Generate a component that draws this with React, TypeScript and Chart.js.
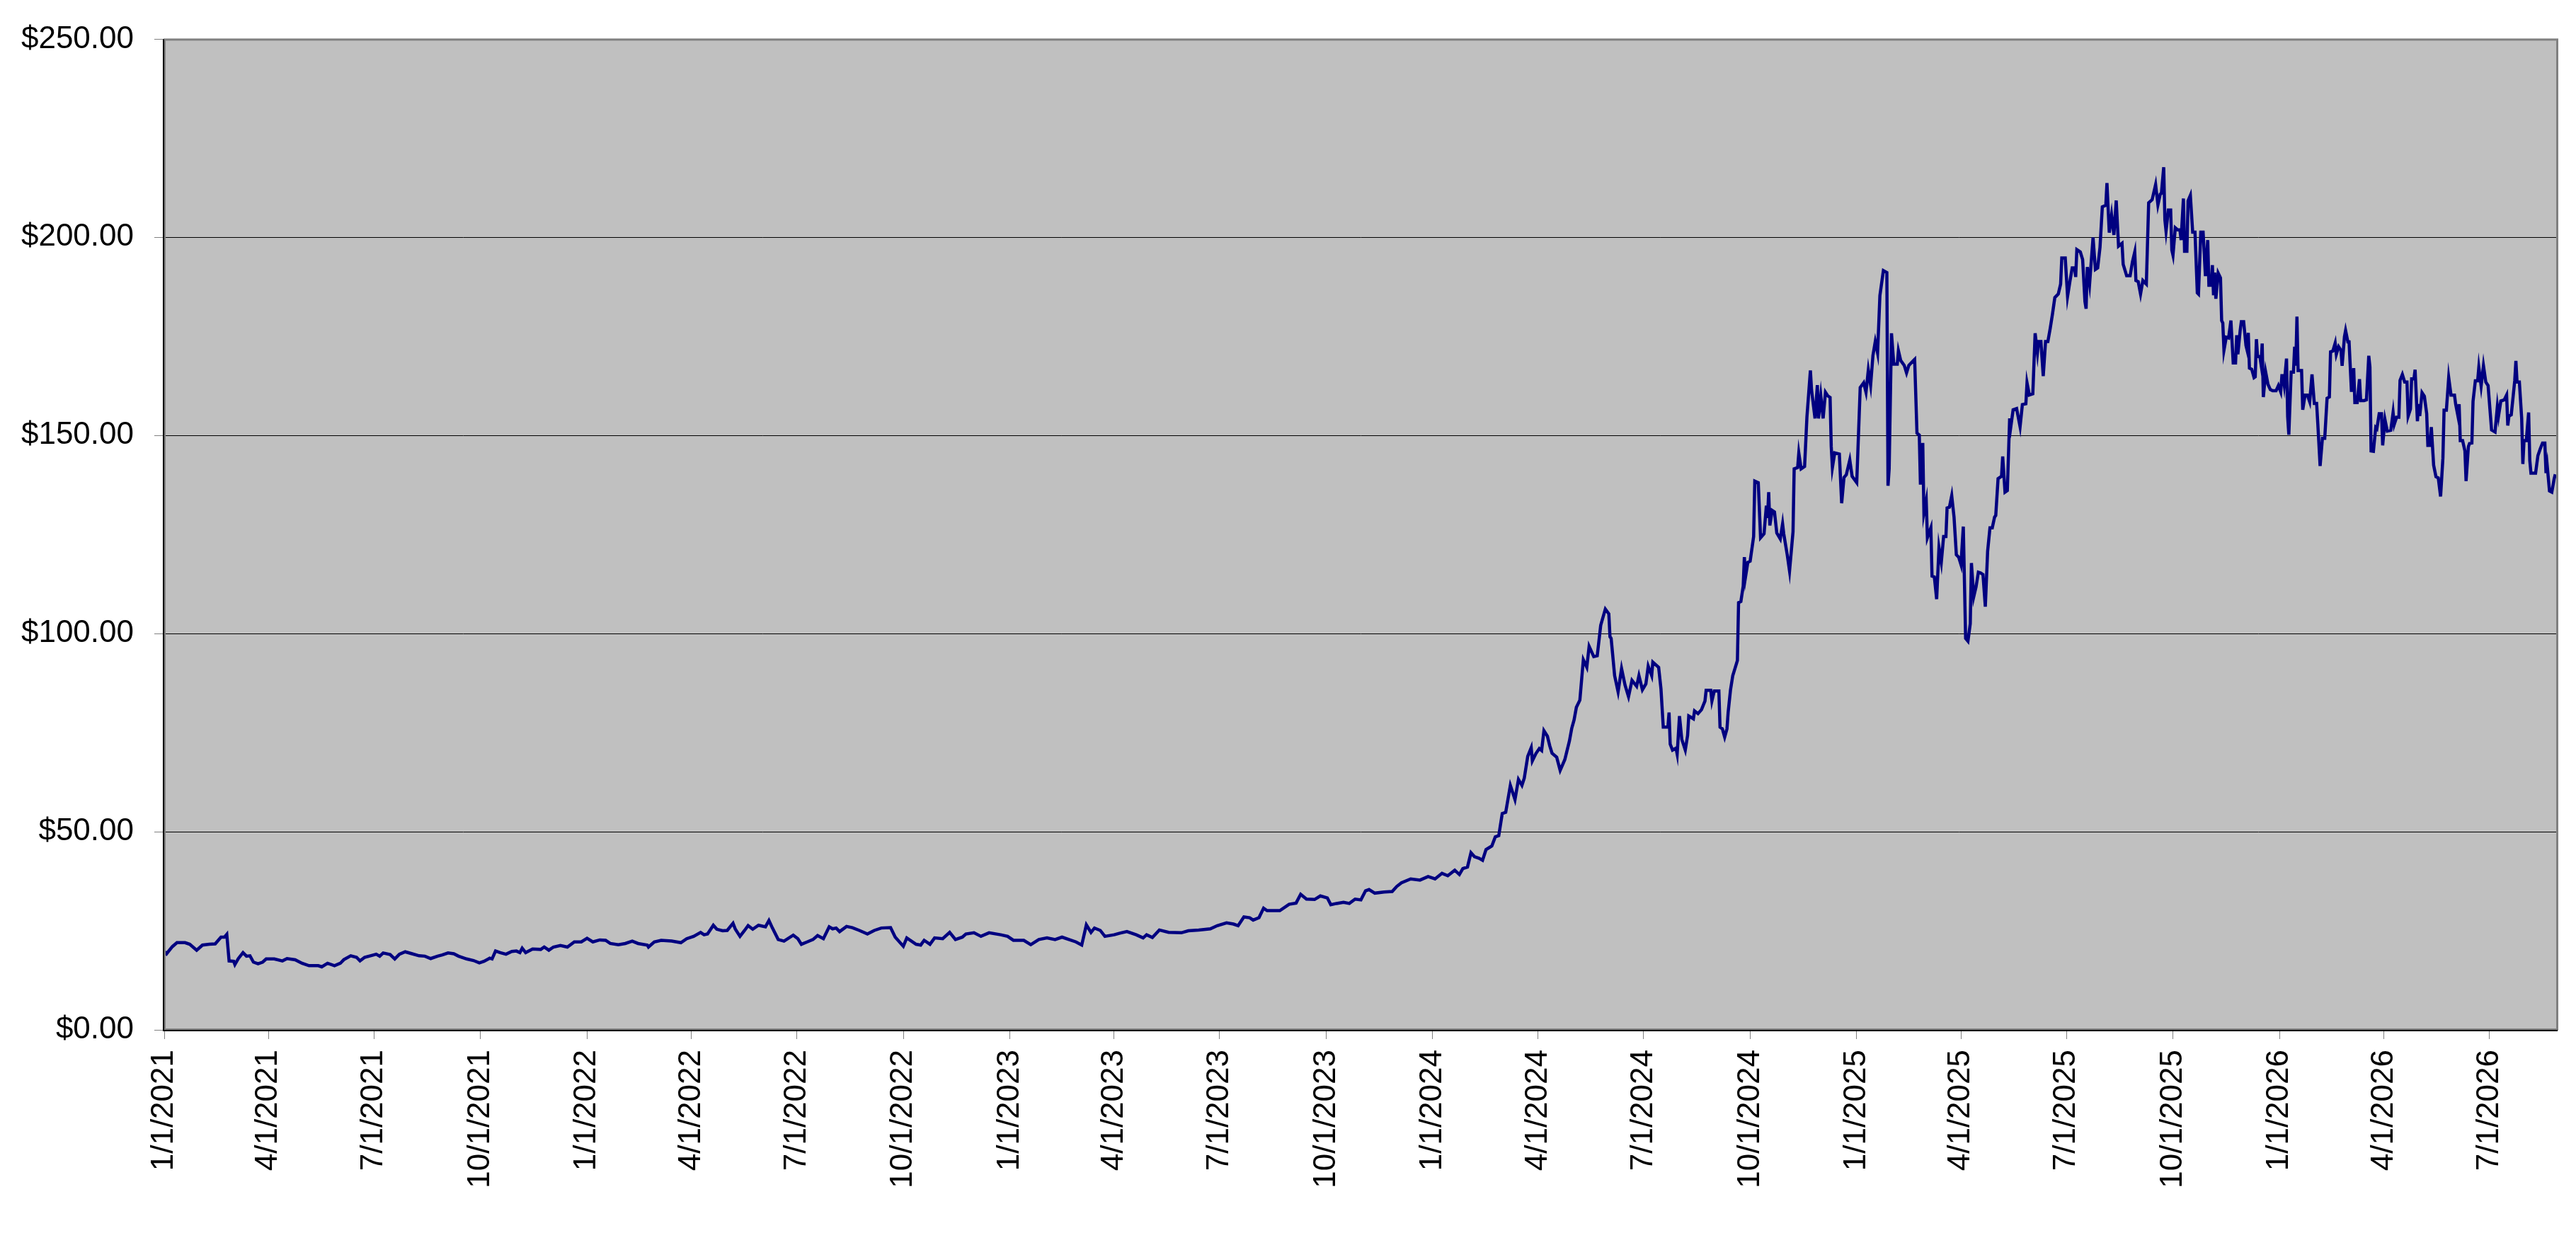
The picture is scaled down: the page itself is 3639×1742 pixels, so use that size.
import React, { useRef, useEffect } from 'react';
import { Chart, registerables, Plugin } from 'chart.js';

Chart.register(...registerables);

// x values are days counted from 1/1/2021
const startDate = Date.UTC(2021, 0, 1);
const lastAxisDay = 2066;

const xTickLabels = [
    '1/1/2021', '4/1/2021', '7/1/2021', '10/1/2021',
    '1/1/2022', '4/1/2022', '7/1/2022', '10/1/2022',
    '1/1/2023', '4/1/2023', '7/1/2023', '10/1/2023',
    '1/1/2024', '4/1/2024', '7/1/2024', '10/1/2024',
    '1/1/2025', '4/1/2025', '7/1/2025', '10/1/2025',
    '1/1/2026', '4/1/2026', '7/1/2026',
];

const yTickValues = [0, 50, 100, 150, 200, 250];

// [day, price]
const prices2021: [number, number][] = [
    [0, 19.8], [2, 19.2], [7, 21.0], [11, 22.0], [18, 22.0], [22, 21.6], [28, 20.1], [33, 21.4], [39, 21.6], [44, 21.7],
    [49, 23.4], [52, 23.4], [54, 24.1], [56, 17.4], [60, 17.3], [61, 16.5], [64, 18.0], [68, 19.5], [71, 18.6], [74, 18.7],
    [77, 17.1], [81, 16.7], [85, 17.1], [88, 17.9], [95, 17.9], [102, 17.4], [106, 18.0], [113, 17.7], [119, 16.8], [125, 16.2],
    [133, 16.2], [136, 15.9], [141, 16.8], [147, 16.2], [152, 16.8], [155, 17.7], [161, 18.7], [166, 18.3], [169, 17.4], [173, 18.3],
    [178, 18.7], [183, 19.1], [186, 18.6], [189, 19.4], [195, 19.0], [199, 17.9], [203, 19.1], [208, 19.7], [214, 19.2], [220, 18.7],
    [225, 18.6], [230, 18.0], [236, 18.6], [240, 18.9], [245, 19.4], [250, 19.2], [254, 18.6], [261, 17.9], [267, 17.5], [272, 16.9],
    [276, 17.3], [281, 18.1], [283, 17.9], [286, 19.9], [290, 19.5], [295, 19.1], [300, 19.8], [304, 19.9], [307, 19.5], [309, 20.6],
    [312, 19.5], [318, 20.4], [325, 20.3], [328, 20.9], [332, 20.1], [336, 20.9], [342, 21.3], [348, 20.9], [354, 22.2], [360, 22.2],
];

const prices2022: [number, number][] = [
    [365, 23.1], [370, 22.2], [376, 22.7], [381, 22.6], [385, 21.8], [392, 21.5], [398, 21.8], [404, 22.4], [409, 21.8], [417, 21.4],
    [418, 20.9], [423, 22.2], [429, 22.6], [438, 22.4], [446, 22.0], [451, 23.0], [457, 23.6], [463, 24.6], [466, 24.0], [469, 24.2],
    [474, 26.4], [477, 25.4], [482, 25.0], [486, 25.1], [491, 26.9], [493, 25.4], [497, 23.6], [501, 25.1], [504, 26.3], [508, 25.4],
    [513, 26.4], [519, 26.0], [522, 27.6], [525, 25.7], [530, 22.8], [535, 22.4], [543, 23.9], [547, 23.0], [550, 21.6], [555, 22.2],
    [560, 22.8], [564, 23.8], [569, 23.0], [574, 26.0], [577, 25.5], [580, 25.7], [583, 24.8], [589, 26.1], [594, 25.8], [600, 25.1],
    [607, 24.2], [613, 25.1], [619, 25.7], [627, 25.8], [631, 23.4], [638, 21.1], [641, 23.2], [649, 21.6], [653, 21.4], [656, 22.6],
    [661, 21.6], [665, 23.2], [672, 23.0], [678, 24.6], [683, 22.8], [689, 23.4], [692, 24.2], [699, 24.5], [705, 23.6], [712, 24.5],
    [722, 24.0], [728, 23.6],
];

const prices2023: [number, number][] = [
    [733, 22.6], [742, 22.6], [748, 21.5], [755, 22.8], [762, 23.2], [769, 22.8], [775, 23.4], [781, 22.8], [787, 22.2], [792, 21.4],
    [796, 26.5], [800, 24.6], [803, 25.7], [808, 25.1], [812, 23.6], [820, 24.0], [825, 24.4], [831, 24.8], [839, 24.0], [845, 23.2],
    [848, 24.0], [853, 23.3], [859, 25.2], [867, 24.6], [878, 24.5], [884, 25.0], [893, 25.2], [903, 25.5], [909, 26.3], [917, 27.0],
    [923, 26.7], [927, 26.3], [932, 28.5], [937, 28.3], [940, 27.7], [945, 28.3], [949, 30.7], [952, 30.1], [959, 30.1], [963, 30.1],
    [971, 31.7], [977, 32.0], [981, 34.2], [986, 33.0], [993, 32.9], [998, 33.8], [1004, 33.3], [1007, 31.6], [1012, 31.9], [1018, 32.2],
    [1023, 31.9], [1028, 33.0], [1033, 32.8], [1037, 35.1], [1040, 35.4], [1045, 34.5], [1053, 34.8], [1060, 34.9], [1064, 36.2], [1068, 37.1],
    [1076, 38.1], [1084, 37.8], [1091, 38.7],
];

const prices2024: [number, number][] = [
    [1097, 38.1], [1103, 39.5], [1108, 38.9], [1114, 40.3], [1118, 39.2], [1121, 40.7], [1125, 41.1], [1128, 44.7], [1131, 43.7], [1135, 43.3],
    [1138, 42.8], [1141, 45.5], [1146, 46.4], [1149, 48.7], [1152, 49.0], [1155, 54.6], [1158, 54.9], [1162, 61.7], [1166, 58.1], [1169, 63.2],
    [1172, 61.7], [1174, 63.5], [1177, 69.0], [1180, 71.2], [1181, 67.9], [1184, 69.7], [1187, 71.0], [1189, 70.5], [1191, 75.5], [1194, 74.1],
    [1196, 71.7], [1198, 69.8], [1202, 68.8], [1205, 65.5], [1209, 68.2], [1213, 72.9], [1215, 76.1], [1217, 78.2], [1219, 81.4], [1222, 83.2],
    [1225, 93.4], [1228, 91.5], [1230, 96.8], [1234, 94.2], [1237, 94.4], [1240, 102.1], [1244, 106.2], [1247, 105.0], [1248, 99.2], [1249, 98.8],
    [1252, 89.4], [1255, 85.3], [1258, 91.2], [1261, 87.0], [1264, 84.1], [1267, 88.2], [1271, 86.7], [1273, 89.4], [1276, 85.8], [1279, 87.3],
    [1281, 91.8], [1284, 89.4], [1285, 92.8], [1290, 91.5], [1292, 86.1], [1294, 76.4], [1298, 76.4], [1299, 80.1], [1300, 72.1], [1302, 70.6],
    [1305, 71.1], [1306, 69.6], [1308, 79.2], [1310, 73.3], [1313, 70.6], [1315, 74.3], [1316, 79.2], [1320, 78.5], [1321, 80.5], [1324, 79.8],
    [1327, 80.8], [1330, 83.0], [1331, 85.7], [1335, 85.7], [1336, 83.0], [1338, 85.5], [1342, 85.5], [1343, 76.4], [1345, 76.0], [1347, 73.9],
    [1349, 76.0], [1350, 80.1], [1352, 85.7], [1354, 89.4], [1356, 91.3], [1358, 93.2], [1359, 107.8], [1361, 108.1], [1363, 112.0], [1364, 119.3],
    [1365, 114.3], [1367, 118.0], [1369, 118.3], [1372, 124.5], [1373, 138.5], [1376, 138.1], [1378, 124.2], [1381, 125.2], [1383, 132.3], [1384, 129.2],
    [1385, 135.7], [1386, 127.3], [1388, 131.1], [1390, 130.7], [1392, 125.4], [1395, 123.9], [1397, 127.7], [1398, 125.2], [1401, 119.9], [1403, 115.8],
    [1406, 125.7], [1407, 141.6], [1410, 141.9], [1411, 145.6], [1413, 141.6], [1416, 142.2], [1418, 154.6], [1421, 166.4], [1422, 161.5], [1425, 154.3],
    [1427, 162.7], [1428, 154.3], [1430, 160.0], [1432, 154.3], [1434, 160.9], [1436, 160.0], [1438, 159.6], [1439, 147.2], [1440, 141.9], [1442, 145.6],
    [1446, 145.3], [1448, 132.9], [1450, 139.4], [1452, 140.1], [1455, 143.8], [1457, 139.7],
];

const prices2025: [number, number][] = [
    [1461, 138.1], [1464, 162.1], [1467, 163.3], [1469, 160.9], [1471, 166.5], [1473, 162.7], [1475, 170.2], [1477, 173.7], [1479, 170.8], [1481, 185.3],
    [1484, 191.6], [1487, 191.1], [1488, 137.3], [1489, 141.6], [1491, 175.8], [1493, 168.0], [1496, 168.0], [1497, 171.4], [1499, 168.9], [1502, 167.7],
    [1504, 165.8], [1506, 167.7], [1510, 168.9], [1511, 169.2], [1513, 150.6], [1515, 150.1], [1516, 137.6], [1518, 148.1], [1519, 130.4], [1521, 133.5],
    [1522, 124.2], [1525, 126.7], [1526, 114.5], [1528, 114.3], [1530, 108.7], [1532, 121.7], [1534, 118.0], [1536, 124.5], [1538, 124.5], [1539, 131.7],
    [1541, 131.9], [1543, 134.8], [1545, 129.4], [1547, 119.9], [1549, 119.3], [1551, 117.4], [1553, 127.0], [1555, 98.8], [1557, 98.1], [1559, 102.5],
    [1560, 117.8], [1562, 109.3], [1564, 111.8], [1566, 115.5], [1568, 115.3], [1570, 114.9], [1572, 106.8], [1574, 120.8], [1576, 126.7], [1578, 126.7],
    [1580, 129.4], [1581, 129.8], [1583, 139.1], [1586, 139.7], [1587, 144.7], [1589, 135.7], [1591, 136.1], [1593, 154.3], [1594, 152.2], [1596, 156.5],
    [1599, 156.8], [1602, 152.2], [1604, 157.8], [1607, 158.0], [1608, 163.3], [1610, 160.2], [1613, 160.5], [1615, 175.8], [1617, 170.8], [1618, 173.7],
    [1620, 173.7], [1622, 165.0], [1624, 173.7], [1626, 173.7], [1628, 177.0], [1630, 180.7], [1632, 184.8], [1635, 185.7], [1637, 188.2], [1638, 194.8],
    [1641, 194.8], [1643, 185.1], [1645, 188.8], [1647, 192.3], [1649, 192.3], [1650, 190.0], [1651, 196.9], [1654, 196.3], [1656, 194.4], [1658, 183.8],
    [1659, 182.0], [1660, 192.5], [1662, 188.2], [1665, 200.0], [1667, 191.9], [1669, 192.3], [1671, 197.5], [1673, 207.7], [1676, 208.1], [1677, 213.7],
    [1679, 201.2], [1681, 205.6], [1683, 200.6], [1685, 209.3], [1687, 197.8], [1690, 198.5], [1691, 193.2], [1694, 190.3], [1697, 190.3], [1699, 193.8],
    [1701, 196.3], [1702, 189.1], [1704, 188.8], [1706, 185.7], [1708, 189.1], [1711, 188.2], [1713, 208.7], [1716, 209.5], [1719, 213.3], [1721, 208.2],
    [1723, 210.9], [1724, 211.1], [1726, 217.7], [1727, 204.4], [1728, 201.6], [1730, 206.9], [1732, 206.9], [1733, 196.8], [1734, 195.5], [1736, 202.4],
    [1738, 201.9], [1740, 201.9], [1741, 199.3], [1743, 209.8], [1744, 196.5], [1746, 196.5], [1747, 209.2], [1749, 210.6], [1751, 201.3], [1753, 201.3],
    [1755, 186.0], [1756, 185.7], [1758, 201.3], [1760, 201.3], [1762, 190.2], [1764, 199.3], [1765, 187.9], [1767, 187.9], [1768, 193.0], [1769, 185.4],
    [1770, 191.1], [1771, 184.5], [1773, 191.0], [1775, 189.8], [1776, 179.0], [1777, 178.4], [1778, 171.5], [1780, 174.8], [1782, 174.6], [1784, 179.0],
    [1786, 168.3], [1788, 168.3], [1789, 175.3], [1790, 170.5], [1792, 176.5], [1793, 178.7], [1795, 178.7], [1797, 172.7], [1798, 171.5], [1799, 175.9],
    [1800, 167.0], [1802, 166.7], [1804, 164.6], [1805, 164.8], [1806, 174.3], [1807, 169.9], [1809, 169.9], [1810, 168.0], [1811, 173.2], [1812, 159.7],
    [1814, 166.0], [1816, 162.9], [1818, 161.6], [1820, 161.3], [1823, 161.3], [1825, 162.6],
];

const prices2026: [number, number][] = [
    [1827, 161.0], [1828, 165.1], [1829, 165.1], [1830, 162.9], [1832, 169.4], [1833, 154.7], [1834, 150.2], [1836, 166.0], [1838, 166.0], [1839, 172.4],
    [1840, 167.6], [1841, 180.0], [1842, 166.4], [1845, 166.4], [1846, 156.5], [1848, 160.2], [1850, 160.2], [1852, 158.5], [1854, 165.4], [1856, 158.1],
    [1858, 158.1], [1859, 153.0], [1861, 142.3], [1863, 149.3], [1865, 149.3], [1867, 159.4], [1869, 159.7], [1870, 171.1], [1872, 171.3], [1874, 173.3],
    [1875, 170.5], [1877, 172.4], [1879, 171.5], [1880, 167.6], [1882, 174.9], [1883, 176.5], [1885, 173.6], [1886, 173.6], [1888, 161.4], [1889, 161.4],
    [1890, 167.0], [1891, 158.3], [1893, 158.3], [1895, 164.2], [1896, 158.8], [1899, 158.8], [1901, 159.0], [1903, 170.1], [1904, 167.3], [1905, 146.1],
    [1907, 146.0], [1909, 152.0], [1910, 151.7], [1912, 155.5], [1914, 155.5], [1915, 147.5], [1917, 154.0], [1919, 151.1], [1922, 151.3], [1924, 155.8],
    [1925, 152.8], [1927, 154.6], [1929, 154.6], [1930, 163.9], [1932, 165.4], [1934, 163.5], [1936, 163.5], [1937, 154.9], [1939, 156.7], [1940, 164.3],
    [1942, 164.3], [1943, 166.6], [1945, 153.6], [1946, 157.9], [1947, 154.9], [1949, 160.8], [1951, 159.9], [1953, 155.5], [1954, 147.5], [1956, 147.5],
    [1957, 152.1], [1959, 142.5], [1961, 139.6], [1963, 139.3], [1965, 134.6], [1967, 144.3], [1968, 156.4], [1970, 156.4], [1972, 164.6], [1974, 160.2],
    [1977, 160.2], [1978, 157.9], [1980, 154.9], [1981, 157.9], [1982, 148.7], [1984, 148.7], [1986, 146.1], [1987, 138.5], [1989, 147.2], [1990, 148.0],
    [1992, 148.1], [1993, 158.6], [1995, 163.8], [1997, 163.8], [1998, 167.2], [2000, 162.5], [2002, 167.6], [2004, 163.5], [2006, 162.6], [2009, 151.4],
    [2012, 150.9], [2014, 157.3], [2015, 154.9], [2017, 158.7], [2020, 159.0], [2022, 160.2], [2023, 152.5], [2024, 154.9], [2026, 155.2], [2029, 163.8],
    [2030, 168.8], [2031, 163.5], [2033, 163.5], [2035, 154.3], [2036, 142.8], [2037, 148.7], [2039, 148.7], [2041, 155.8], [2042, 143.7], [2043, 140.5],
    [2047, 140.5], [2049, 144.9], [2051, 146.6], [2053, 148.1], [2055, 148.1], [2056, 140.5], [2057, 142.5], [2059, 136.0], [2061, 135.7], [2063, 139.0],
    [2064, 140.2],
];

const labelToDay = (label: string) => {
    const [m, d, y] = label.split('/').map(Number);
    return Math.round((Date.UTC(y, m - 1, d) - startDate) / 86400000);
};

const plotFrame: Plugin<'line'> = {
    id: 'plotFrame',
    beforeDraw(chart) {
        const { ctx, chartArea: a } = chart;
        ctx.save();
        ctx.fillStyle = '#C0C0C0';
        ctx.fillRect(a.left, a.top, a.width, a.height);
        ctx.restore();
    },
    afterDatasetsDraw(chart) {
        const { ctx, chartArea: a } = chart;
        ctx.save();
        ctx.strokeStyle = '#808080';
        ctx.lineWidth = 3;
        ctx.strokeRect(a.left + 0.5, a.top + 0.5, a.width - 1, a.height - 1);
        ctx.strokeStyle = '#000000';
        ctx.lineWidth = 2;
        ctx.beginPath();
        ctx.moveTo(a.left - 1, a.top);
        ctx.lineTo(a.left - 1, a.bottom + 1);
        ctx.lineTo(a.right, a.bottom + 1);
        ctx.stroke();
        ctx.restore();
    },
};

const PriceChart: React.FC = () => {
    const chartRef = useRef<HTMLCanvasElement>(null);
    const chartInstance = useRef<Chart | null>(null);

    useEffect(() => {
        if (chartInstance.current) {
            chartInstance.current.destroy();
        }
        const ctx = chartRef.current?.getContext('2d');
        if (!ctx) return;

        const points = [...prices2021, ...prices2022, ...prices2023, ...prices2024, ...prices2025, ...prices2026]
            .map(([day, price]) => ({ x: day, y: price }));
        const tickDays = xTickLabels.map(labelToDay);
        const font = { family: '"Liberation Sans", Arial, sans-serif', size: 44 };

        chartInstance.current = new Chart(ctx, {
            type: 'line',
            data: {
                datasets: [{
                    data: points,
                    borderColor: '#000080',
                    borderWidth: 4.5,
                    pointRadius: 0,
                    tension: 0,
                    fill: false,
                }]
            },
            options: {
                animation: false,
                responsive: true,
                maintainAspectRatio: false,
                layout: { padding: { top: 43, right: 26, left: 0, bottom: 0 } },
                plugins: {
                    legend: { display: false },
                    tooltip: { enabled: false },
                },
                scales: {
                    x: {
                        type: 'linear',
                        min: 0,
                        max: lastAxisDay,
                        afterBuildTicks: (scale) => {
                            scale.ticks = tickDays.map(v => ({ value: v }));
                        },
                        afterFit: (scale) => {
                            scale.height = 287;
                        },
                        grid: {
                            drawOnChartArea: false,
                            drawTicks: true,
                            tickLength: 13,
                            tickColor: '#808080',
                        },
                        border: { display: false },
                        ticks: {
                            autoSkip: false,
                            minRotation: 90,
                            maxRotation: 90,
                            padding: 15,
                            color: '#000000',
                            font,
                            callback: (_value, index) => xTickLabels[index],
                        },
                    },
                    y: {
                        min: 0,
                        max: 250,
                        afterBuildTicks: (scale) => {
                            scale.ticks = yTickValues.map(v => ({ value: v }));
                        },
                        afterFit: (scale) => {
                            scale.width = 232;
                        },
                        grid: {
                            color: '#000000',
                            lineWidth: 1,
                            tickLength: 14,
                            tickColor: '#808080',
                        },
                        border: { display: false },
                        ticks: {
                            padding: 29,
                            color: '#000000',
                            font,
                            callback: (value) => '$' + Number(value).toFixed(2),
                        },
                    },
                },
            },
            plugins: [plotFrame],
        });

        return () => {
            chartInstance.current?.destroy();
        };
    }, []);

    return (
        <div style={{ position: 'absolute', left: 0, top: 0, width: 3639, height: 1742, background: '#ffffff' }}>
            <canvas ref={chartRef}></canvas>
        </div>
    );
};

export default function App() {
    return <PriceChart />;
}
